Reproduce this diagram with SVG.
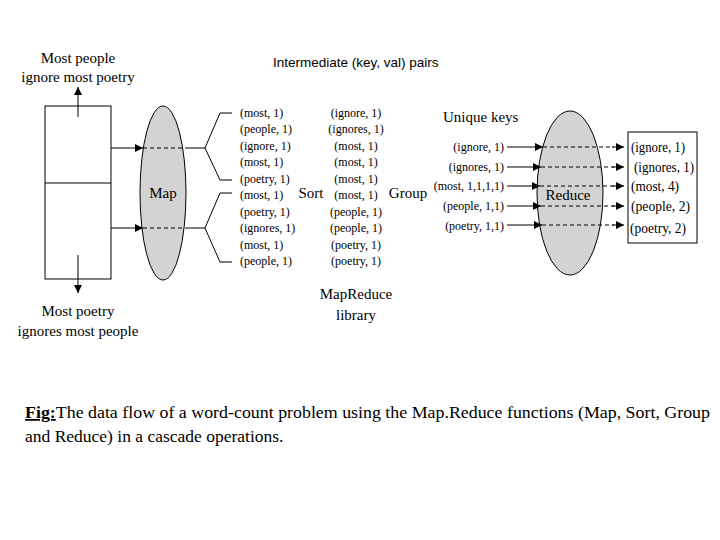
<svg xmlns="http://www.w3.org/2000/svg" width="720" height="540" viewBox="0 0 720 540">
<defs>
<marker id="ah" viewBox="0 0 10 10" refX="10" refY="5" markerWidth="8" markerHeight="8" markerUnits="userSpaceOnUse" orient="auto"><path d="M0,0L10,5L0,10z" fill="#000"/></marker>
<style>
.t{font-family:"Liberation Serif",serif;fill:#000}
.s{font-size:12px}
.m{font-size:15px}
.sa{font-family:"Liberation Sans",sans-serif;font-size:13.5px;fill:#000}
.l{stroke:#000;stroke-width:1;fill:none}
.d{stroke:#000;stroke-width:1;stroke-dasharray:4,3;fill:none}
</style>
</defs>
<rect width="720" height="540" fill="#fff"/>
<g id="input">
<rect x="45" y="106" width="66" height="173" class="l"/>
<line x1="45" y1="183" x2="111" y2="183" class="l"/>
<text class="t m" x="78" y="63" text-anchor="middle">Most people</text>
<text class="t m" x="78" y="82" text-anchor="middle">ignore most poetry</text>
<text class="t m" x="78" y="316" text-anchor="middle">Most poetry</text>
<text class="t m" x="78" y="336" text-anchor="middle">ignores most people</text>
</g>
<g id="map">
<ellipse cx="163" cy="193" rx="23" ry="87" fill="#d3d3d3" stroke="#000"/>
<text class="t m" x="163" y="198" text-anchor="middle">Map</text>
</g>
<g id="intermediate" class="t s">
<text class="sa" x="273" y="67">Intermediate (key, val) pairs</text>
<text x="240" y="117">(most, 1)</text><text x="240" y="133">(people, 1)</text><text x="240" y="150">(ignore, 1)</text><text x="240" y="166">(most, 1)</text><text x="240" y="183">(poetry, 1)</text><text x="240" y="199">(most, 1)</text><text x="240" y="216">(poetry, 1)</text><text x="240" y="232">(ignores, 1)</text><text x="240" y="249">(most, 1)</text><text x="240" y="265">(people, 1)</text>
</g>
<g id="sorted" class="t s" text-anchor="middle">
<text x="356" y="117">(ignore, 1)</text><text x="356" y="133">(ignores, 1)</text><text x="356" y="150">(most, 1)</text><text x="356" y="166">(most, 1)</text><text x="356" y="183">(most, 1)</text><text x="356" y="199">(most, 1)</text><text x="356" y="216">(people, 1)</text><text x="356" y="232">(people, 1)</text><text x="356" y="249">(poetry, 1)</text><text x="356" y="265">(poetry, 1)</text>
<text class="m" x="311" y="198">Sort</text>
<text class="m" x="408" y="198">Group</text>
<text class="m" x="356" y="299">MapReduce</text>
<text class="m" x="356" y="320">library</text>
</g>
<g id="keys" class="t s" text-anchor="end">
<text x="443" y="122" text-anchor="start" class="m">Unique keys</text>
<text x="504" y="151">(ignore, 1)</text><text x="504" y="171">(ignores, 1)</text><text x="504" y="190">(most, 1,1,1,1)</text><text x="504" y="210">(people, 1,1)</text><text x="504" y="230">(poetry, 1,1)</text>
</g>
<g id="reduce">
<ellipse cx="570" cy="193" rx="33" ry="82" fill="#d3d3d3" stroke="#000"/>
<text class="t m" x="568" y="200" text-anchor="middle">Reduce</text>
</g>
<g id="output">
<rect x="628" y="132" width="69" height="111" class="l"/>
<g class="t" font-size="14">
<text x="631" y="152" textLength="54" lengthAdjust="spacingAndGlyphs">(ignore, 1)</text><text x="634" y="172" textLength="60" lengthAdjust="spacingAndGlyphs">(ignores, 1)</text><text x="631" y="191" textLength="48" lengthAdjust="spacingAndGlyphs">(most, 4)</text><text x="631" y="211" textLength="59" lengthAdjust="spacingAndGlyphs">(people, 2)</text><text x="630" y="233" textLength="56" lengthAdjust="spacingAndGlyphs">(poetry, 2)</text>
</g>
</g>
<g id="connectors">
<line x1="78" y1="117" x2="78" y2="87" class="l" marker-end="url(#ah)"/>
<line x1="78" y1="255" x2="78" y2="293" class="l" marker-end="url(#ah)"/>
<line x1="111" y1="148" x2="143" y2="148" class="l" marker-end="url(#ah)"/>
<line x1="143" y1="148" x2="185" y2="148" class="d"/>
<line x1="185" y1="148" x2="205" y2="148" class="l"/>
<polyline points="232,113 220,113 205,148 220,180 232,180" class="l"/>
<line x1="111" y1="228" x2="143" y2="228" class="l" marker-end="url(#ah)"/>
<line x1="143" y1="228" x2="185" y2="228" class="d"/>
<line x1="185" y1="228" x2="205" y2="228" class="l"/>
<polyline points="232,193 220,193 205,228 220,262 232,262" class="l"/>
<g>
<line x1="507" y1="147" x2="543" y2="147" class="l" marker-end="url(#ah)"/><line x1="543" y1="147" x2="614" y2="147" class="d"/><line x1="612" y1="147" x2="624" y2="147" class="l" marker-end="url(#ah)"/>
<line x1="507" y1="167" x2="541" y2="167" class="l" marker-end="url(#ah)"/><line x1="541" y1="167" x2="614" y2="167" class="d"/><line x1="612" y1="167" x2="624" y2="167" class="l" marker-end="url(#ah)"/>
<line x1="507" y1="186" x2="540" y2="186" class="l" marker-end="url(#ah)"/><line x1="540" y1="186" x2="614" y2="186" class="d"/><line x1="612" y1="186" x2="624" y2="186" class="l" marker-end="url(#ah)"/>
<line x1="507" y1="206" x2="541" y2="206" class="l" marker-end="url(#ah)"/><line x1="541" y1="206" x2="614" y2="206" class="d"/><line x1="612" y1="206" x2="624" y2="206" class="l" marker-end="url(#ah)"/>
<line x1="507" y1="225" x2="542" y2="225" class="l" marker-end="url(#ah)"/><line x1="542" y1="225" x2="614" y2="225" class="d"/><line x1="612" y1="225" x2="624" y2="225" class="l" marker-end="url(#ah)"/>
</g>
</g>
<g id="caption" class="t" font-size="17.5">
<text x="25" y="418" textLength="685" lengthAdjust="spacingAndGlyphs"><tspan font-weight="bold" text-decoration="underline">Fig:</tspan>The data flow of a word-count problem using the Map.Reduce functions (Map, Sort, Group</text>
<text x="25" y="442">and Reduce) in a cascade operations.</text>
</g>
</svg>
